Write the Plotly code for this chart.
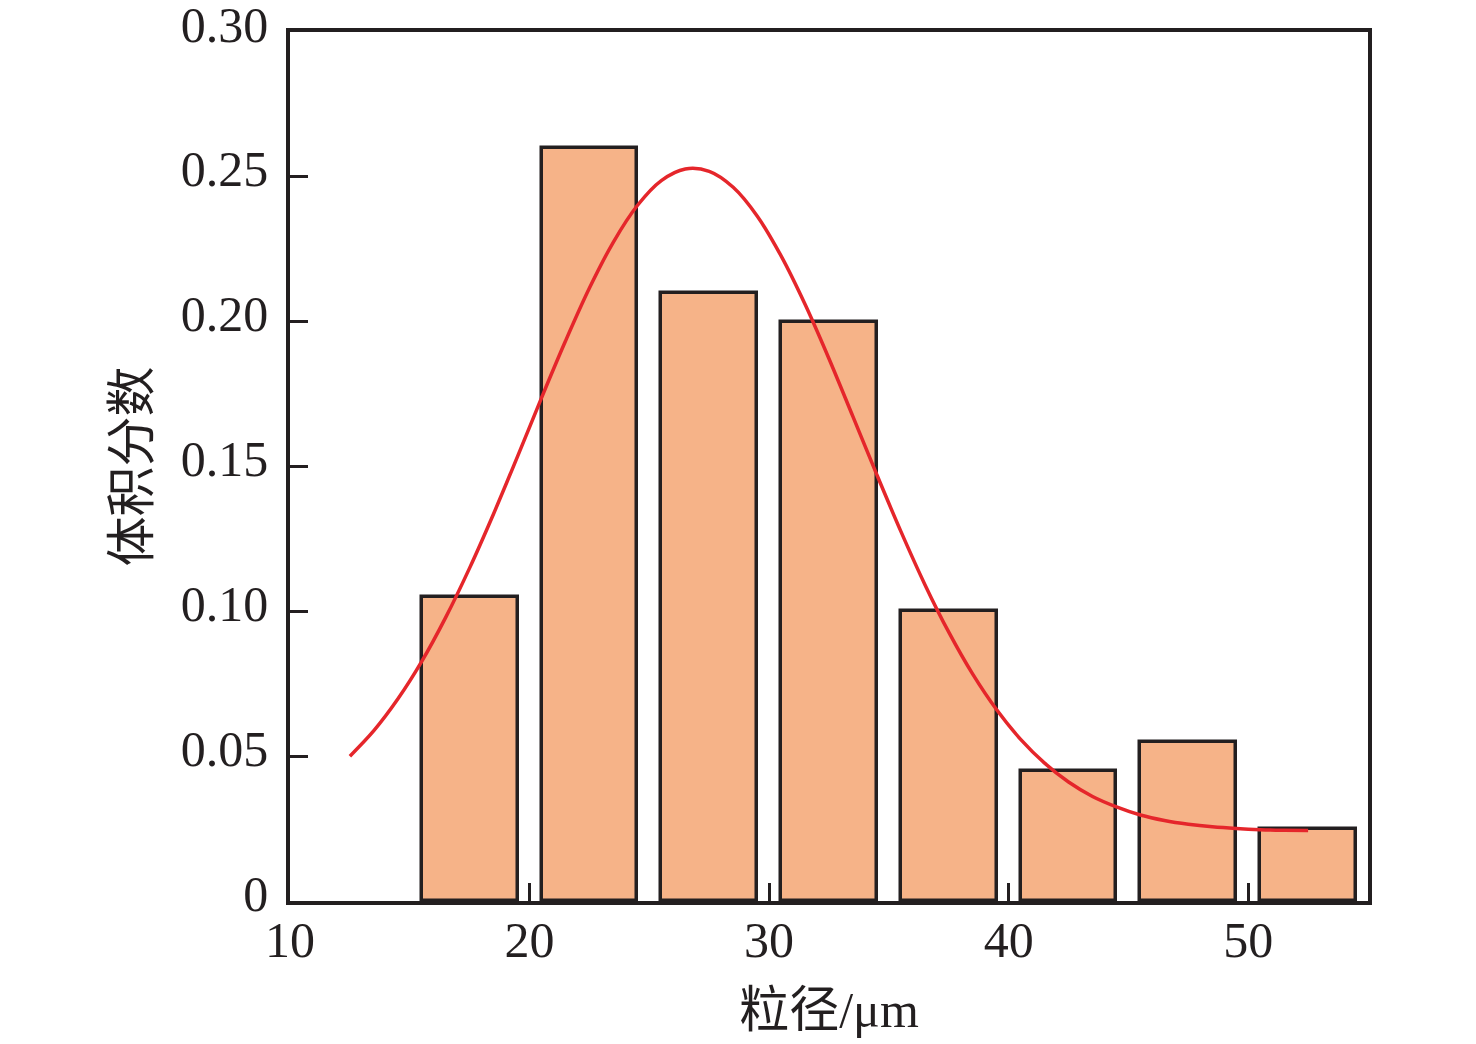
import plotly.graph_objects as go

# histogram of particle size (volume fraction)
bin_centers = [17.5, 22.5, 27.5, 32.5, 37.5, 42.5, 47.5, 52.5]
volume_fraction = [0.105, 0.26, 0.21, 0.20, 0.10, 0.045, 0.055, 0.025]

# fitted distribution curve
fit_x = [12.5, 13.5, 14.5, 15.5, 16.5, 17.5, 18.5, 19.5, 20.5, 21.5, 22.5,
         23.5, 24.5, 25.5, 26.5, 27.5, 28.5, 29.5, 30.5, 31.5, 32.5, 33.5,
         34.5, 35.5, 36.5, 37.5, 38.5, 39.5, 40.5, 41.5, 42.5, 43.5, 44.5,
         45.5, 46.5, 47.5, 48.5, 49.5, 50.5, 51.5, 52.5]
fit_y = [0.0500, 0.0588, 0.0697, 0.0827, 0.0979, 0.1150, 0.1337, 0.1535,
         0.1737, 0.1933, 0.2116, 0.2275, 0.2401, 0.2487, 0.2527, 0.2519,
         0.2464, 0.2365, 0.2227, 0.2060, 0.1872, 0.1672, 0.1471, 0.1276,
         0.1093, 0.0928, 0.0783, 0.0660, 0.0558, 0.0476, 0.0411, 0.0361,
         0.0325, 0.0297, 0.0278, 0.0265, 0.0256, 0.0250, 0.0246, 0.0244,
         0.0243]

x_ticks = [10, 20, 30, 40, 50]
y_ticks = [0, 0.05, 0.10, 0.15, 0.20, 0.25, 0.30]
y_labels = ["0", "0.05", "0.10", "0.15", "0.20", "0.25", "0.30"]

font = "Liberation Serif, Times New Roman, Noto Sans CJK SC, serif"
ink = "#231F20"

fig = go.Figure()
fig.add_trace(go.Bar(x=bin_centers, y=volume_fraction, width=4,
                     marker=dict(color="#F6B388",
                                 line=dict(color=ink, width=3.5)),
                     showlegend=False))
fig.add_trace(go.Scatter(x=fit_x, y=fit_y, mode="lines",
                         line=dict(color="#E5262B", width=3.5, shape="spline"),
                         showlegend=False))

fig.update_layout(
    width=1476, height=1044,
    margin=dict(l=282, r=116, t=24, b=151),
    paper_bgcolor="white", plot_bgcolor="white",
    font=dict(family=font, size=50, color=ink),
    bargap=0,
)
fig.update_xaxes(range=[10, 55], tickvals=x_ticks, ticks="inside",
                 ticklen=18, tickwidth=3, tickcolor=ink,
                 tickfont=dict(size=50), ticklabelstandoff=-8,
                 ticklabeloverflow="allow", automargin=False,
                 showline=True, linewidth=3.5, linecolor=ink, mirror=True,
                 showgrid=False, zeroline=False,
                 title=dict(text="粒径/μm", font=dict(size=50), standoff=26))
fig.update_yaxes(range=[0, 0.30], tickvals=y_ticks, ticktext=y_labels,
                 ticks="inside", ticklen=18, tickwidth=3, tickcolor=ink,
                 tickfont=dict(size=50), ticklabelstandoff=8,
                 ticklabelshift=-8,
                 ticklabeloverflow="allow", automargin=False,
                 showline=True, linewidth=3.5, linecolor=ink, mirror=True,
                 showgrid=False, zeroline=False,
                 title=dict(text="体积分数", font=dict(size=50), standoff=16))

fig.write_html("out.html")
